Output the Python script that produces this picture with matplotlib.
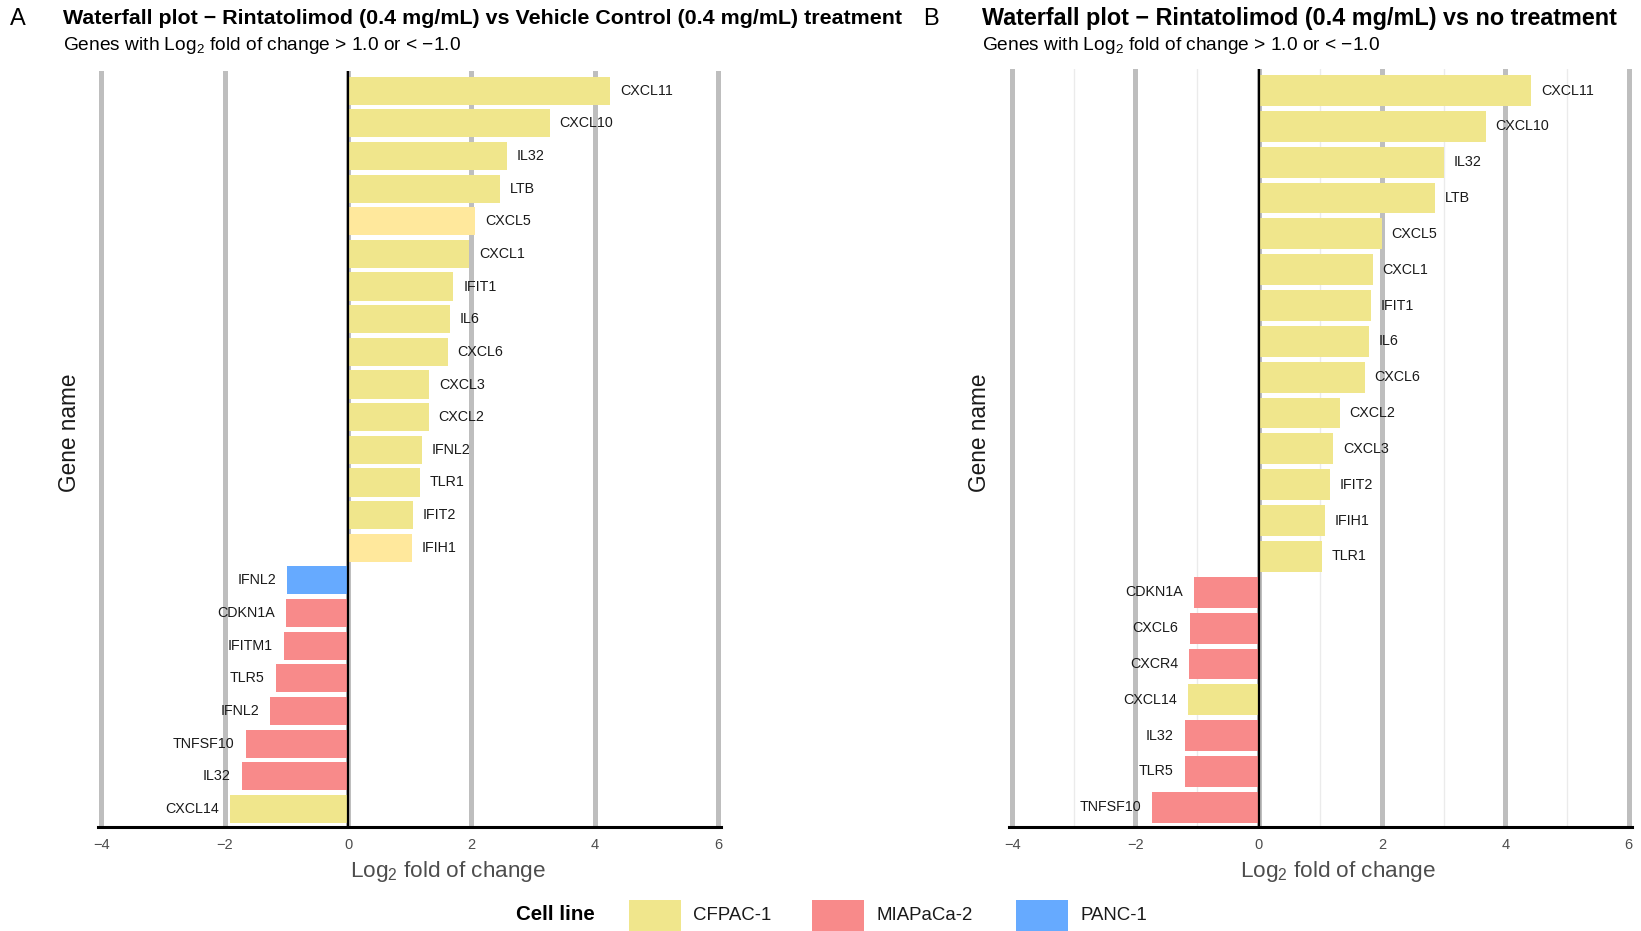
import matplotlib
matplotlib.use("Agg")
import matplotlib.pyplot as plt
from matplotlib.patches import Rectangle

plt.rcParams['font.family'] = ['Liberation Sans', 'DejaVu Sans']
plt.rcParams['mathtext.fontset'] = 'custom'
plt.rcParams['mathtext.rm'] = 'Liberation Sans'
plt.rcParams['mathtext.it'] = 'Liberation Sans:italic'
plt.rcParams['mathtext.bf'] = 'Liberation Sans:bold'

# ---------------- data ----------------
genes_a = ["CXCL11", "CXCL10", "IL32", "LTB", "CXCL5", "CXCL1", "IFIT1", "IL6",
           "CXCL6", "CXCL3", "CXCL2", "IFNL2", "TLR1", "IFIT2", "IFIH1",
           "IFNL2", "CDKN1A", "IFITM1", "TLR5", "IFNL2", "TNFSF10", "IL32", "CXCL14"]
lfc_a = [4.25, 3.27, 2.58, 2.46, 2.06, 1.97, 1.71, 1.65, 1.62, 1.32, 1.31, 1.20,
         1.16, 1.05, 1.04, -0.99, -1.01, -1.04, -1.17, -1.26, -1.66, -1.72, -1.91]
cell_a = ["CFPAC-1"] * 15 + ["PANC-1"] + ["MIAPaCa-2"] * 6 + ["CFPAC-1"]

genes_b = ["CXCL11", "CXCL10", "IL32", "LTB", "CXCL5", "CXCL1", "IFIT1", "IL6",
           "CXCL6", "CXCL2", "CXCL3", "IFIT2", "IFIH1", "TLR1",
           "CDKN1A", "CXCL6", "CXCR4", "CXCL14", "IL32", "TLR5", "TNFSF10"]
lfc_b = [4.42, 3.68, 3.01, 2.86, 2.00, 1.85, 1.82, 1.79, 1.72, 1.32, 1.21, 1.16,
         1.07, 1.02, -1.05, -1.12, -1.13, -1.15, -1.20, -1.20, -1.73]
cell_b = ["CFPAC-1"] * 14 + ["MIAPaCa-2"] * 3 + ["CFPAC-1"] + ["MIAPaCa-2"] * 3

cell_lines = ["CFPAC-1", "MIAPaCa-2", "PANC-1"]
x_ticks = [-4, -2, 0, 2, 4, 6]

title_a = "Waterfall plot \u2212 Rintatolimod (0.4 mg/mL) vs Vehicle Control (0.4 mg/mL) treatment"
title_b = "Waterfall plot \u2212 Rintatolimod (0.4 mg/mL) vs no treatment"
subtitle = "Genes with Log$_2$ fold of change > 1.0 or < \u22121.0"

# ---------------- style ----------------
colors = {"CFPAC-1": "#F0E68C", "MIAPaCa-2": "#F88A8A", "PANC-1": "#66AAFF"}
light_yellow = "#FFE89C"
light_idx_a = {4, 14}   # slightly lighter rendered bars in panel A

W, H = 1641, 931
fig = plt.figure(figsize=(W / 100, H / 100), dpi=100)


def fx(px):
    return px / W


def fy(py):
    return 1 - py / H


def panel(ax, genes, vals, cells, minor, light=()):
    n = len(genes)
    ys = list(range(n))
    cols = [light_yellow if i in light else colors[c] for i, c in enumerate(cells)]
    ax.barh(ys, vals, height=0.86, color=cols, zorder=2)
    ax.set_xlim(-4.05, 6.05)
    ax.set_ylim(n - 1 + 0.55, -0.6)
    ax.set_xticks(x_ticks)
    ax.set_xticklabels([("\u2212%d" % -t) if t < 0 else str(t) for t in x_ticks],
                       color="#4D4D4D", fontsize=10.5)
    ax.tick_params(axis='x', length=0, pad=8)
    ax.set_yticks([])
    ax.set_axisbelow(True)
    if minor:
        for m in [-3, -1, 1, 3, 5]:
            ax.axvline(m, color="#EBEBEB", lw=1.0, zorder=0)
    for t in x_ticks:
        ax.axvline(t, color="#BEBEBE", lw=3.6, zorder=1)
    ax.axvline(0, color="black", lw=1.6, zorder=3)
    for s in ["top", "right", "left"]:
        ax.spines[s].set_visible(False)
    ax.spines["bottom"].set_linewidth(2.2)
    ax.spines["bottom"].set_color("black")
    ax.spines["bottom"].set_zorder(4)
    for y, v, g in zip(ys, vals, genes):
        if v >= 0:
            ax.annotate(g, (v, y), xytext=(7, 0), textcoords="offset points",
                        ha="left", va="center", fontsize=10.3, color="#1A1A1A")
        else:
            ax.annotate(g, (v, y), xytext=(-8, 0), textcoords="offset points",
                        ha="right", va="center", fontsize=10.3, color="#1A1A1A")


ax_a = fig.add_axes([fx(98.4), fy(827), fx(622.6), (827 - 71) / H])
panel(ax_a, genes_a, lfc_a, cell_a, minor=False, light=light_idx_a)
ax_b = fig.add_axes([fx(1009), fy(827), fx(622.6), (827 - 69) / H])
panel(ax_b, genes_b, lfc_b, cell_b, minor=True)

# x labels
fig.text(fx(448), fy(872), "Log$_2$ fold of change", fontsize=16.2, color="#4D4D4D",
         ha="center", va="center")
fig.text(fx(1338), fy(872), "Log$_2$ fold of change", fontsize=16.2, color="#4D4D4D",
         ha="center", va="center")

# titles
fig.text(fx(10), fy(19), "A", fontsize=17, va="center", ha="left")
fig.text(fx(63), fy(19), title_a, fontsize=15.4, fontweight="bold", va="center", ha="left")
fig.text(fx(63), fy(46), subtitle, fontsize=13.8, va="center", ha="left")
fig.text(fx(923), fy(19), "B", fontsize=17, va="center", ha="left")
fig.text(fx(982), fy(19), title_b, fontsize=16.8, fontweight="bold", va="center", ha="left")
fig.text(fx(982), fy(46), subtitle, fontsize=13.8, va="center", ha="left")

# y labels
fig.text(fx(69), fy(433), "Gene name", rotation=90, fontsize=16.3, va="center", ha="center",
         color="#1A1A1A")
fig.text(fx(980), fy(433), "Gene name", rotation=90, fontsize=16.3, va="center", ha="center",
         color="#1A1A1A")

# legend
fig.text(fx(555), fy(915), "Cell line", fontsize=14.8, fontweight="bold", va="center", ha="center")
key_x = [629, 812, 1016]
for kx, cl in zip(key_x, cell_lines):
    fig.add_artist(Rectangle((fx(kx), 0), fx(52), (931 - 900) / H,
                             transform=fig.transFigure, facecolor=colors[cl],
                             edgecolor="none"))
    fig.text(fx(kx + 64), fy(916), cl, fontsize=13.4, va="center", ha="left",
             color="#1A1A1A")

fig.savefig("out.png", dpi=100)
